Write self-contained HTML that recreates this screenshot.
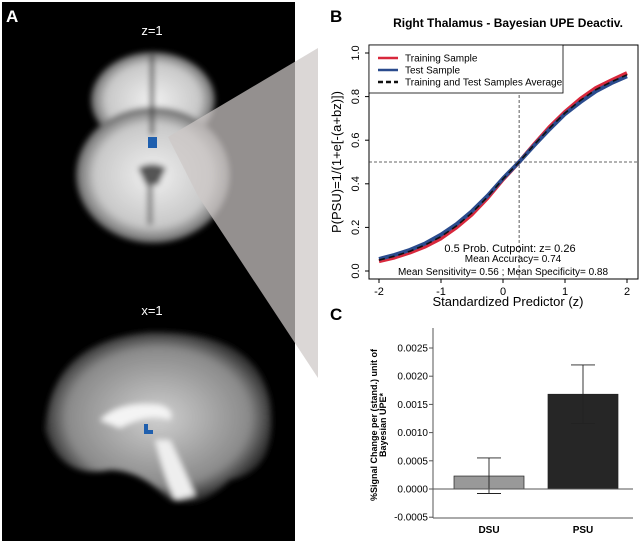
<!DOCTYPE html>
<html><head><meta charset="utf-8"><style>
body{margin:0;width:640px;height:544px;background:#fff;overflow:hidden;font-family:"Liberation Sans",sans-serif}
svg{position:absolute;left:0;top:0}
</style></head><body>
<svg width="640" height="544" viewBox="0 0 640 544">
<defs>
<filter id="bl" x="-20%" y="-20%" width="140%" height="140%"><feGaussianBlur stdDeviation="3"/></filter>
<radialGradient id="ax" cx="50%" cy="50%" r="50%"><stop offset="0" stop-color="#f0f0f0"/><stop offset="0.75" stop-color="#c8c8c8"/><stop offset="1" stop-color="#666"/></radialGradient>
<radialGradient id="sg" cx="50%" cy="50%" r="50%"><stop offset="0" stop-color="#cfcfcf"/><stop offset="0.8" stop-color="#8a8a8a"/><stop offset="1" stop-color="#333"/></radialGradient>
</defs>
<g>
<rect x="2" y="2" width="293" height="539" fill="#000"/>
<g filter="url(#bl)">
<ellipse cx="153" cy="100" rx="62" ry="48" fill="url(#ax)"/>
<ellipse cx="153" cy="175" rx="77" ry="68" fill="url(#ax)"/>
<path d="M152 55 L152 135" stroke="#444" stroke-width="4"/>
<path d="M138 168 Q152 160 166 168 L158 185 L146 185Z" fill="#555"/>
<path d="M150 185 L150 225" stroke="#888" stroke-width="6"/>
</g>
<rect x="148" y="137" width="9" height="11" fill="#1f5fae"/>
<g filter="url(#bl)">
<path d="M45 430 Q50 340 150 332 Q255 330 270 400 Q280 470 230 480 Q200 510 170 500 Q140 470 110 470 Q60 480 45 430Z" fill="url(#sg)"/>
<path d="M100 420 Q120 400 160 405 Q175 410 170 420 Q150 412 120 428Z" fill="#f4f4f4"/>
<path d="M155 440 Q165 480 175 500 L195 495 Q180 460 170 440Z" fill="#eee"/>
</g>
<rect x="144" y="424" width="4" height="9" fill="#1f5fae"/>
<rect x="144" y="430" width="9" height="4" fill="#1f5fae"/>
<text x="6" y="22" fill="#fff" font-size="17" font-weight="bold">A</text>
<text x="152" y="35" fill="#fff" font-size="13" text-anchor="middle">z=1</text>
<text x="152" y="315" fill="#fff" font-size="13" text-anchor="middle">x=1</text>
</g>
<polygon points="168,137 318,48 318,378 198,196" fill="rgba(205,200,198,0.72)"/>
<g id="chartB"></g>
<g id="chartC"></g>
</svg>
<script>
const NS="http://www.w3.org/2000/svg";
function mk(p,t,a,txt){const e=document.createElementNS(NS,t);for(const k in a)e.setAttribute(k,a[k]);if(txt!==undefined)e.textContent=txt;p.appendChild(e);return e;}
// ---- Chart B data ----
const zVals=[-2,-1.75,-1.5,-1.25,-1,-0.75,-0.5,-0.25,0,0.26,0.5,0.75,1,1.25,1.5,1.75,2];
const trainP=[0.045,0.062,0.085,0.113,0.15,0.2,0.26,0.335,0.42,0.5,0.58,0.66,0.73,0.79,0.84,0.875,0.908];
const testP=[0.055,0.074,0.097,0.127,0.167,0.215,0.275,0.345,0.425,0.5,0.575,0.65,0.72,0.775,0.825,0.862,0.893];
const avgP=[0.05,0.068,0.091,0.12,0.158,0.207,0.267,0.34,0.422,0.5,0.578,0.655,0.725,0.783,0.832,0.868,0.9];
const xTicks=[-2,-1,0,1,2];
const yTicks=[0,0.2,0.4,0.6,0.8,1.0];
const cutZ=0.26, cutP=0.5;
const B=document.getElementById('chartB');
const bx=z=>379+(z+2)*62, by=p=>271-p*218;
let e;
e=mk(B,'text',{x:330,y:22,'font-size':17,'font-weight':'bold'},'B');
e=mk(B,'text',{x:508,y:27,'font-size':12,'font-weight':'bold','text-anchor':'middle'},'Right Thalamus - Bayesian UPE Deactiv.');
e=mk(B,'rect',{x:369,y:45,width:269,height:234,fill:'#fff',stroke:'#000','stroke-width':1});
e=mk(B,'line',{x1:bx(cutZ),x2:bx(cutZ),y1:45,y2:279,stroke:'#333','stroke-dasharray':'3,2','stroke-width':0.8});
e=mk(B,'line',{x1:369,x2:638,y1:by(cutP),y2:by(cutP),stroke:'#333','stroke-dasharray':'3,2','stroke-width':0.8});
function line(arr,col,w,dash,name){const d=zVals.map((z,i)=>(i?'L':'M')+bx(z).toFixed(1)+' '+by(arr[i]).toFixed(1)).join(' ');const p=mk(B,'path',{d:d,fill:'none',stroke:col,'stroke-width':w,'stroke-linejoin':'round'});if(dash)p.setAttribute('stroke-dasharray',dash);}
line(trainP,'#d8283c',4,null,'training-line');
line(testP,'#2a4b8d',4,null,'test-line');
line(avgP,'#111',1.6,'6,4','average-line');
xTicks.forEach(t=>{mk(B,'line',{x1:bx(t),x2:bx(t),y1:279,y2:283,stroke:'#000'});e=mk(B,'text',{x:bx(t),y:295,'font-size':11,'text-anchor':'middle'},t);});
yTicks.forEach(t=>{mk(B,'line',{x1:365,x2:369,y1:by(t),y2:by(t),stroke:'#000'});e=mk(B,'text',{x:359,y:by(t),'font-size':11,'text-anchor':'middle',transform:`rotate(-90 359 ${by(t)})`},t.toFixed(1));});
e=mk(B,'text',{x:508,y:306,'font-size':13,'text-anchor':'middle'},'Standardized Predictor (z)');
e=mk(B,'text',{x:341,y:162,'font-size':13,'text-anchor':'middle',transform:'rotate(-90 341 162)'},'P(PSU)=1/(1+e[-(a+bz)])');
e=mk(B,'rect',{x:369,y:45,width:194,height:48,fill:'#fff',stroke:'#000','stroke-width':0.8});
const leg=[['Training Sample','#d8283c',null],['Test Sample','#2a4b8d',null],['Training and Test Samples Average','#111','5,3']];
leg.forEach((l,i)=>{const y=58+i*12;const ln=mk(B,'line',{x1:378,x2:398,y1:y,y2:y,stroke:l[1],'stroke-width':2.5});if(l[2])ln.setAttribute('stroke-dasharray',l[2]);e=mk(B,'text',{x:405,y:y+3.5,'font-size':10},l[0]);});
[['0.5 Prob. Cutpoint: z= 0.26',252,510,11],['Mean Accuracy= 0.74',262,513,10],['Mean Sensitivity= 0.56 ; Mean Specificity= 0.88',275,503,10]].forEach(s=>{e=mk(B,'text',{x:s[2],y:s[1],'font-size':s[3],'text-anchor':'middle'},s[0]);});
// ---- Chart C data ----
const cats=['DSU','PSU'];
const means=[0.00023,0.00168];
const errLo=[-0.00008,0.00116];
const errHi=[0.00055,0.0022];
const cTicks=[-0.0005,0,0.0005,0.001,0.0015,0.002,0.0025];
const C=document.getElementById('chartC');
const cy=v=>489-v*56400;
const cx0=[454,548];
e=mk(C,'text',{x:330,y:320,'font-size':17,'font-weight':'bold'},'C');
e=mk(C,'line',{x1:433,x2:433,y1:328,y2:518,stroke:'#555'});
e=mk(C,'line',{x1:433,x2:633,y1:518,y2:518,stroke:'#555'});
cTicks.forEach(t=>{mk(C,'line',{x1:429,x2:433,y1:cy(t),y2:cy(t),stroke:'#555'});e=mk(C,'text',{x:428,y:cy(t)+3.5,'font-size':10,'text-anchor':'end'},t.toFixed(4));});
cats.forEach((c,i)=>{const x=cx0[i];const y0=cy(0),y1=cy(means[i]);
e=mk(C,'rect',{x:x,y:Math.min(y0,y1),width:70,height:Math.abs(y0-y1),fill:i?'#262626':'#999',stroke:'#222','stroke-width':0.7});
const m=x+35;e=mk(C,'path',{d:`M${m} ${cy(errLo[i])}V${cy(errHi[i])}M${m-12} ${cy(errLo[i])}H${m+12}M${m-12} ${cy(errHi[i])}H${m+12}`,stroke:'#222',fill:'none','stroke-width':0.9});
e=mk(C,'text',{x:m,y:533,'font-size':10,'font-weight':'bold','text-anchor':'middle'},c);});
e=mk(C,'line',{x1:433,x2:633,y1:cy(0),y2:cy(0),stroke:'#555'});
e=mk(C,'text',{x:0,y:0,'font-size':9,'font-weight':'bold','text-anchor':'middle',transform:'translate(377 425) rotate(-90)'},'%Signal Change per (stand.) unit of');
e=mk(C,'text',{x:0,y:0,'font-size':9,'font-weight':'bold','text-anchor':'middle',transform:'translate(386 425) rotate(-90)'},'Bayesian UPE*');
</script>
</body></html>
